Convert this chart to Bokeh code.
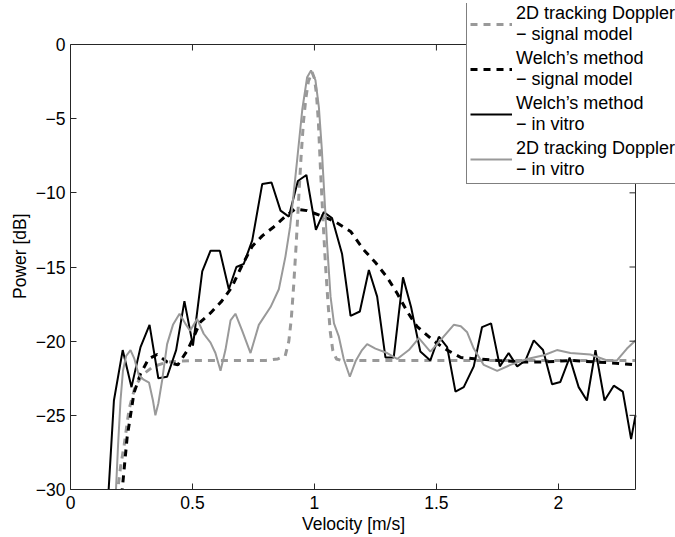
from bokeh.plotting import figure
from bokeh.models import Range1d, FixedTicker, Legend, LegendItem, Span
from bokeh.embed import file_html
from bokeh.resources import INLINE

# Welch's method - in vitro (black solid)
welch_vitro_x = [0.142, 0.178, 0.214, 0.250, 0.287, 0.324, 0.360, 0.396, 0.433, 0.467, 0.502, 0.540,
                 0.574, 0.612, 0.649, 0.680, 0.710, 0.745, 0.786, 0.824, 0.861, 0.895, 0.932, 0.967,
                 1.006, 1.038, 1.072, 1.113, 1.148, 1.186, 1.223, 1.257, 1.291, 1.325, 1.363, 1.396,
                 1.434, 1.475, 1.510, 1.544, 1.578, 1.612, 1.653, 1.687, 1.724, 1.760, 1.796, 1.831,
                 1.865, 1.899, 1.937, 1.974, 2.008, 2.046, 2.083, 2.117, 2.152, 2.189, 2.227, 2.264,
                 2.298, 2.316]
welch_vitro_y = [-34.0, -24.0, -20.6, -23.1, -20.4, -18.9, -22.5, -22.4, -20.6, -17.3, -20.3, -15.3,
                 -13.9, -13.9, -16.5, -15.0, -14.8, -13.2, -9.4, -9.3, -11.2, -11.6, -9.2, -8.8,
                 -12.5, -11.3, -11.7, -14.1, -18.3, -18.0, -15.2, -17.0, -21.1, -21.1, -15.7, -17.7,
                 -20.7, -21.3, -19.7, -20.4, -23.4, -23.1, -21.7, -19.05, -18.8, -21.7, -20.8, -21.7,
                 -21.3, -19.95, -20.6, -22.9, -22.75, -21.1, -23.1, -24.0, -20.6, -24.0, -23.0, -23.4,
                 -26.6, -25.0]

# Welch's method - signal model (black dashed)
welch_model_x = [0.190, 0.212, 0.232, 0.260, 0.287, 0.320, 0.355, 0.396, 0.440, 0.480, 0.533, 0.574,
                 0.620, 0.660, 0.700, 0.745, 0.786, 0.833, 0.880, 0.920, 0.970, 1.020, 1.080, 1.148,
                 1.200, 1.250, 1.298, 1.340, 1.380, 1.420, 1.490, 1.544, 1.600, 1.667, 1.750, 1.850,
                 1.950, 2.050, 2.150, 2.250, 2.316]
welch_model_y = [-33.0, -30.0, -26.5, -23.5, -22.2, -21.2, -20.9, -21.4, -21.6, -20.6, -18.7, -18.1,
                 -17.3, -16.4, -15.0, -13.6, -12.9, -12.3, -11.6, -11.1, -11.2, -11.5, -11.9, -12.6,
                 -13.8, -14.7, -15.7, -16.8, -18.0, -19.0, -20.0, -20.6, -21.1, -21.2, -21.3, -21.4,
                 -21.4, -21.3, -21.4, -21.5, -21.6]

# 2D tracking Doppler - signal model (grey dashed)
track_model_x = [0.170, 0.190, 0.205, 0.220, 0.240, 0.266, 0.300, 0.340, 0.400, 0.500, 0.600, 0.700,
                 0.800, 0.850, 0.880, 0.895, 0.905, 0.915, 0.925, 0.935, 0.945, 0.955, 0.965, 0.975,
                 0.990, 1.000, 1.008, 1.016, 1.025, 1.035, 1.045, 1.055, 1.065, 1.075, 1.090, 1.110,
                 1.300, 1.600, 2.000, 2.316]
track_model_y = [-34.0, -30.5, -28.5, -27.0, -24.6, -23.0, -22.2, -21.7, -21.4, -21.3, -21.3, -21.3,
                 -21.3, -21.2, -21.0, -20.0, -18.5, -16.2, -13.5, -10.5, -7.6, -5.2, -3.6, -2.5,
                 -1.85, -2.3, -3.3, -5.2, -8.5, -11.8, -14.8, -17.3, -19.4, -20.6, -21.2, -21.3,
                 -21.3, -21.3, -21.3, -21.3]

# 2D tracking Doppler - in vitro (grey solid)
track_vitro_x = [0.175, 0.195, 0.205, 0.215, 0.228, 0.246, 0.262, 0.280, 0.300, 0.322, 0.338, 0.348,
                 0.360, 0.376, 0.396, 0.420, 0.447, 0.470, 0.490, 0.519, 0.546, 0.574, 0.594, 0.615,
                 0.635, 0.656, 0.676, 0.704, 0.738, 0.772, 0.820, 0.854, 0.881, 0.900, 0.915, 0.929,
                 0.950, 0.970, 0.986, 1.004, 1.018, 1.030, 1.040, 1.052, 1.066, 1.080, 1.100, 1.120,
                 1.145, 1.170, 1.195, 1.216, 1.250, 1.298, 1.339, 1.387, 1.428, 1.475, 1.516, 1.571,
                 1.600, 1.626, 1.653, 1.694, 1.749, 1.803, 1.872, 1.940, 1.994, 2.049, 2.131, 2.200,
                 2.240, 2.281, 2.316]
track_vitro_y = [-34.0, -27.0, -24.0, -22.0, -21.0, -20.6, -21.2, -22.3, -22.6, -22.8, -24.0, -25.0,
                 -24.2, -22.6, -20.2, -18.9, -18.15, -18.8, -19.3, -18.5, -19.5, -20.1, -20.8, -22.0,
                 -20.6, -18.6, -18.15, -19.3, -20.8, -18.9, -17.7, -16.5, -14.3, -12.3, -10.0, -7.8,
                 -4.4, -2.2, -1.75, -2.4, -4.2, -7.0, -10.0, -13.5, -17.0, -18.8, -19.7, -21.2,
                 -22.4, -21.3, -20.6, -20.2, -20.5, -20.8, -21.2, -20.6, -19.8, -20.7, -19.95, -18.9,
                 -19.0, -19.4, -20.5, -21.6, -22.0, -21.6, -21.2, -20.95, -20.6, -20.8, -20.9, -21.3,
                 -21.3, -20.5, -19.95]

x_ticks = [0, 0.5, 1, 1.5, 2]
x_tick_labels = ["0", "0.5", "1", "1.5", "2"]
y_ticks = [0, -5, -10, -15, -20, -25, -30]
y_tick_labels = ["0", "\u22125", "\u221210", "\u221215", "\u221220", "\u221225", "\u221230"]

x_label = "Velocity [m/s]"
y_label = "Power [dB]"
legend_labels = ["2D tracking Doppler\n\u2212 signal model",
                 "Welch\u2019s method\n\u2212 signal model",
                 "Welch\u2019s method\n\u2212 in vitro",
                 "2D tracking Doppler\n\u2212 in vitro"]

# axes box limits (data units)
X_MIN, X_MAX = 0.0, 2.316
Y_MIN, Y_MAX = -30.0, 0.0

FONT = "Liberation Sans"
FS = "17.5px"
GREY = "#999999"
AX = "#262626"
NBSP = "\u00a0"

# layout geometry (pixels): the axes box spans 565 x 445 px; the frame is
# enlarged up/right so that the legend can overhang the box like the original
W, H = 675, 537
LEFT, BOTTOM, TOP = 70, 48, 3
BOX_W, BOX_H = 565, 445
FRAME_W, FRAME_H = W - LEFT, H - BOTTOM - TOP
x_hi = X_MIN + (X_MAX - X_MIN) * FRAME_W / BOX_W
y_hi = Y_MIN + (Y_MAX - Y_MIN) * FRAME_H / BOX_H
px_x = (X_MAX - X_MIN) / BOX_W
px_y = (Y_MAX - Y_MIN) / BOX_H

p = figure(width=W, height=H, output_backend="svg", toolbar_location=None,
           x_range=Range1d(X_MIN, x_hi), y_range=Range1d(Y_MIN, y_hi),
           min_border_left=LEFT, min_border_right=0, min_border_top=TOP, min_border_bottom=BOTTOM)
p.xgrid.visible = False
p.ygrid.visible = False
p.outline_line_color = None
p.background_fill_color = "white"
p.border_fill_color = "white"

r_tm = p.line(track_model_x, track_model_y, line_color=GREY, line_width=3, line_dash="7 6")
r_wm = p.line(welch_model_x, welch_model_y, line_color="black", line_width=3, line_dash="7 6")
r_wv = p.line(welch_vitro_x, welch_vitro_y, line_color="black", line_width=2)
r_tv = p.line(track_vitro_x, track_vitro_y, line_color=GREY, line_width=2)

# inward ticks on the top and right sides of the box
TICK = 6
p.segment(x0=x_ticks, y0=[Y_MAX] * len(x_ticks), x1=x_ticks, y1=[Y_MAX - TICK * px_y] * len(x_ticks),
          line_color=AX, line_width=1)
p.segment(x0=[X_MAX] * len(y_ticks), y0=y_ticks, x1=[X_MAX - TICK * px_x] * len(y_ticks), y1=y_ticks,
          line_color=AX, line_width=1)

def style_axis(ax):
    ax.axis_line_color = AX
    ax.axis_line_width = 1
    ax.major_tick_line_color = AX
    ax.major_tick_in = TICK
    ax.major_tick_out = 0
    ax.minor_tick_line_color = None
    ax.major_label_text_font = FONT
    ax.major_label_text_font_size = FS
    ax.major_label_text_color = "black"
    ax.axis_label_text_font = FONT
    ax.axis_label_text_font_size = FS
    ax.axis_label_text_font_style = "normal"
    ax.axis_label_text_color = "black"

# the axis labels are centred on the (enlarged) frame; trailing no-break
# spaces move them back to the centre of the axes box
xa = p.xaxis[0]
xa.ticker = FixedTicker(ticks=x_ticks)
xa.major_label_overrides = dict(zip(x_ticks, x_tick_labels))
xa.axis_label = x_label + NBSP * 8
xa.bounds = (X_MIN, X_MAX)
style_axis(xa)
xa.major_label_standoff = 6
xa.axis_label_standoff = 2

ya = p.yaxis[0]
ya.ticker = FixedTicker(ticks=y_ticks)
ya.major_label_overrides = dict(zip(y_ticks, y_tick_labels))
ya.axis_label = y_label + NBSP * 4
ya.bounds = (Y_MIN, Y_MAX)
style_axis(ya)
ya.major_label_standoff = 5
ya.axis_label_standoff = 3

# top and right sides of the axes box
p.add_layout(Span(location=Y_MAX, dimension="width", line_color=AX, line_width=1))
p.add_layout(Span(location=X_MAX, dimension="height", line_color=AX, line_width=1))

legend = Legend(items=[LegendItem(label=legend_labels[0], renderers=[r_tm]),
                       LegendItem(label=legend_labels[1], renderers=[r_wm]),
                       LegendItem(label=legend_labels[2], renderers=[r_wv]),
                       LegendItem(label=legend_labels[3], renderers=[r_tv])],
                location=(396, 305))
legend.border_line_color = "black"
legend.border_line_width = 1
legend.background_fill_color = "white"
legend.background_fill_alpha = 1
legend.label_text_font = FONT
legend.label_text_font_size = "18px"
legend.label_text_color = "black"
legend.glyph_width = 42
legend.label_standoff = 4
legend.padding = 3
legend.spacing = 3
legend.margin = 0
p.add_layout(legend, "center")

open("out.html", "w").write(file_html(p, INLINE))
